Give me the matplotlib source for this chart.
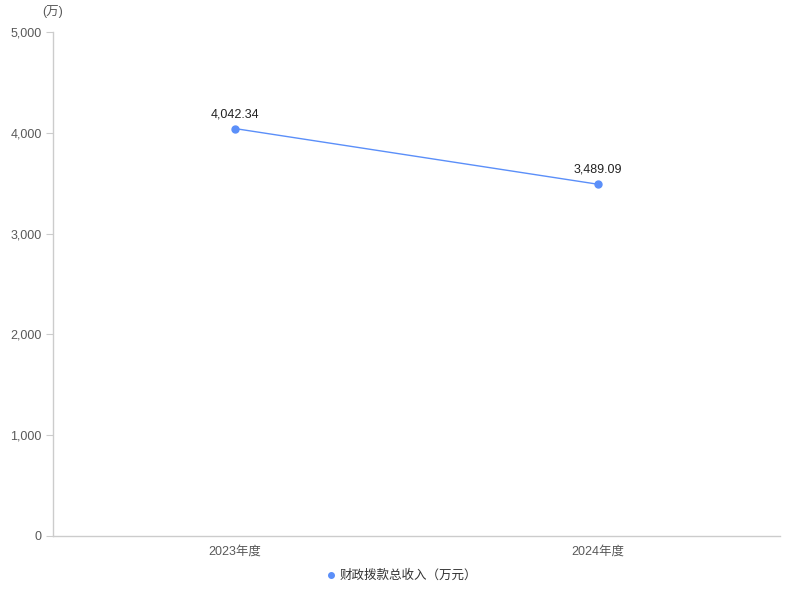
import matplotlib.pyplot as plt
from matplotlib.lines import Line2D

plt.rcParams['font.family'] = ['Liberation Sans', 'Noto Sans CJK SC', 'DejaVu Sans']

categories = ['2023年度', '2024年度']
values = [4042.34, 3489.09]
series_name = '财政拨款总收入（万元）'
y_ticks = [0, 1000, 2000, 3000, 4000, 5000]

color = '#5B8FF9'
text_gray = '#595959'
axis_gray = '#CCCCCC'

fig = plt.figure(figsize=(8, 6), dpi=100)
ax = fig.add_axes([53 / 800, 64 / 600, 727 / 800, 504 / 600])

x = list(range(len(categories)))
ax.plot(x, values, color=color, linewidth=1, marker='o', markersize=5, zorder=3)
for xi, v in zip(x, values):
    ax.annotate(f'{v:,.2f}', (xi, v), xytext=(0, 6), textcoords='offset points',
                ha='center', va='bottom', fontsize=9, color='#222222')

ax.set_xlim(-0.5, len(categories) - 0.5)
ax.set_ylim(0, 5000)
ax.set_xticks(x)
ax.set_xticklabels(categories)
ax.set_yticks(y_ticks)
ax.set_yticklabels([f'{t:,}' for t in y_ticks])

for side in ['top', 'right']:
    ax.spines[side].set_visible(False)
for side in ['left', 'bottom']:
    ax.spines[side].set_color(axis_gray)
    ax.spines[side].set_linewidth(1)

ax.tick_params(axis='y', length=5, color=axis_gray, labelsize=9, labelcolor=text_gray, pad=3)
ax.tick_params(axis='x', length=0, labelsize=9, labelcolor=text_gray, pad=7)

ax.text(0, 1.04, '(万)', transform=ax.transAxes, ha='center', va='center',
        fontsize=9, color=text_gray)

handle = Line2D([], [], color=color, marker='o', linestyle='none', markersize=4)
fig.legend([handle], [series_name], loc='center', bbox_to_anchor=(0.5, 24 / 600),
           frameon=False, fontsize=9, handletextpad=0.1, handlelength=1.2,
           labelcolor='#333333')

fig.savefig('out.png', dpi=100, facecolor='white')
